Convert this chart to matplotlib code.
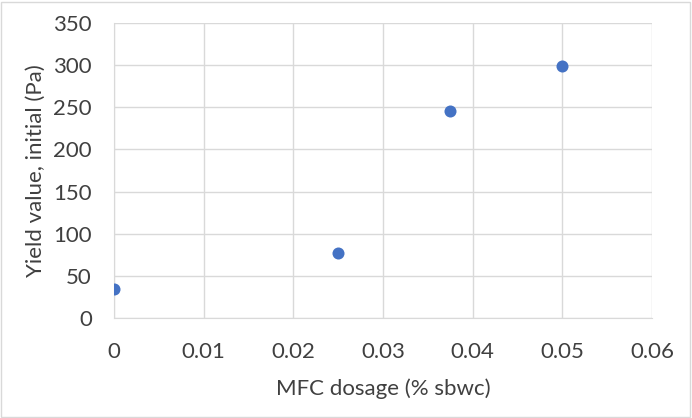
import matplotlib
matplotlib.use('Agg')
import matplotlib.pyplot as plt
from matplotlib.patches import Rectangle

# data
dosage = [0, 0.025, 0.0375, 0.05]
yield_value = [35, 77, 246, 299]

x_ticks = [0, 0.01, 0.02, 0.03, 0.04, 0.05, 0.06]
x_tick_labels = ['0', '0.01', '0.02', '0.03', '0.04', '0.05', '0.06']
y_ticks = [0, 50, 100, 150, 200, 250, 300, 350]

plt.rcParams['font.family'] = ['Lato', 'DejaVu Sans']
txt_color = '#404040'

fig = plt.figure(figsize=(6.92, 4.18), dpi=100)
ax = fig.add_axes([114/692, 1 - 318/418, (652-114)/692, (318-23)/418])

ax.scatter(dosage, yield_value, s=75, color='#4472C4', zorder=3, linewidths=0)

ax.set_xlim(0, 0.06)
ax.set_ylim(0, 350)
ax.set_xticks(x_ticks)
ax.set_xticklabels(x_tick_labels)
ax.set_yticks(y_ticks)
ax.grid(True, color='#D9D9D9', linewidth=1)
ax.set_axisbelow(True)
for s in ['top', 'right']:
    ax.spines[s].set_visible(False)
for s in ['left', 'bottom']:
    ax.spines[s].set_color('#D9D9D9')
ax.tick_params(length=0, labelsize=16, colors=txt_color)
ax.tick_params(axis='x', pad=17)
ax.tick_params(axis='y', pad=16)

ax.set_xlabel('MFC dosage (% sbwc)', fontsize=16, color=txt_color, labelpad=12)
ax.set_ylabel('Yield value, initial (Pa)', fontsize=16, color=txt_color, labelpad=5)

# light border round the chart like excel
fig.patches.append(Rectangle((0.002, 0.003), 0.995, 0.993, transform=fig.transFigure,
                             fill=False, edgecolor='#D9D9D9', linewidth=1))

fig.savefig('out.png', dpi=100)
